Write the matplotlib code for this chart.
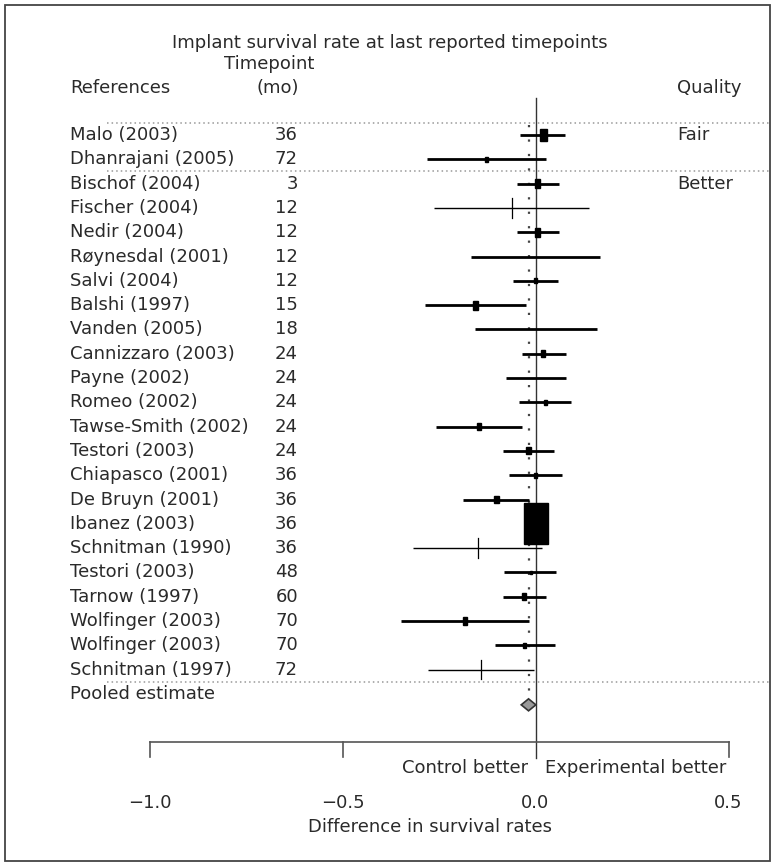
import matplotlib
matplotlib.use("Agg")
import matplotlib.pyplot as plt
from matplotlib.patches import Rectangle, Polygon

# study table
references = ["Malo (2003)", "Dhanrajani (2005)", "Bischof (2004)", "Fischer (2004)",
              "Nedir (2004)", "Røynesdal (2001)", "Salvi (2004)", "Balshi (1997)",
              "Vanden (2005)", "Cannizzaro (2003)", "Payne (2002)", "Romeo (2002)",
              "Tawse-Smith (2002)", "Testori (2003)", "Chiapasco (2001)", "De Bruyn (2001)",
              "Ibanez (2003)", "Schnitman (1990)", "Testori (2003)", "Tarnow (1997)",
              "Wolfinger (2003)", "Wolfinger (2003)", "Schnitman (1997)"]
timepoints = [36, 72, 3, 12, 12, 12, 12, 15, 18, 24, 24, 24, 24, 24, 36, 36, 36, 36, 48, 60, 70, 70, 72]
estimate = [0.020, -0.127, 0.006, -0.062, 0.006, 0.0, 0.0, -0.156, 0.0, 0.020, 0.0, 0.025,
            -0.146, -0.018, 0.0, -0.101, 0.0, -0.150, -0.012, -0.030, -0.183, -0.029, -0.142]
ci_low = [-0.040, -0.280, -0.048, -0.264, -0.048, -0.168, -0.057, -0.286, -0.158, -0.036, -0.077, -0.042,
          -0.258, -0.083, -0.068, -0.187, -0.020, -0.318, -0.081, -0.085, -0.349, -0.104, -0.279]
ci_high = [0.077, 0.026, 0.062, 0.139, 0.060, 0.167, 0.057, -0.025, 0.160, 0.079, 0.078, 0.093,
           -0.035, 0.048, 0.069, -0.016, 0.020, 0.018, 0.053, 0.026, -0.017, 0.050, -0.004]
weight = [8.5, 1.7, 4.7, 0, 4.7, 0, 1.7, 4.7, 0, 3.0, 0, 1.7,
          3.0, 3.0, 1.7, 3.0, 100, 0, 0.75, 3.0, 3.0, 1.7, 0]
marker = ["box", "box", "box", "tick", "box", "none", "box", "box", "none", "box", "none", "box",
          "box", "box", "box", "box", "box", "tick", "box", "box", "box", "box", "tick"]
quality = {0: "Fair", 2: "Better"}
group_breaks = [0, 2, 23]
pooled = -0.018
pooled_ci = (-0.037, 0.001)
ticks = [-1.0, -0.5, 0.0, 0.5]
tick_labels = ["\u22121.0", "\u22120.5", "0.0", "0.5"]

W, H = 773, 863
X0, SX = 535.5, 386.0      # pixel of 0.0 and pixels per unit
R0, DY = 135.0, 24.3       # pixel of first row and row pitch

plt.rcParams['font.family'] = ['DejaVu Sans']
fs = 13.0
tc = "#2a2a2a"

fig = plt.figure(figsize=(W / 100, H / 100), dpi=100)
ax = fig.add_axes([0, 0, 1, 1])
ax.set_xlim(-X0 / SX, (W - X0) / SX)
ax.set_ylim((H - R0) / DY, -R0 / DY)
ax.axis("off")


def ry(ypx):
    return (ypx - R0) / DY


def fx(xpx):
    return (xpx - X0) / SX


# frame
ax.add_patch(Rectangle((fx(5), ry(861)), fx(770) - fx(5), ry(5) - ry(861),
                       fill=False, ec="#444444", lw=1.3, zorder=0))

# header text
ax.text(fx(390), ry(43), "Implant survival rate at last reported timepoints", ha="center", va="center", fontsize=fs, color=tc)
ax.text(fx(269), ry(64), "Timepoint", ha="center", va="center", fontsize=fs, color=tc)
ax.text(fx(70), ry(88), "References", ha="left", va="center", fontsize=fs, color=tc)
ax.text(fx(299), ry(88), "(mo)", ha="right", va="center", fontsize=fs, color=tc)
ax.text(fx(677), ry(88), "Quality", ha="left", va="center", fontsize=fs, color=tc)

# group separators
for b in group_breaks:
    ax.plot([fx(107), fx(770)], [b - 0.5, b - 0.5], color="#999999", lw=1.1, ls=(0, (1, 2)), zorder=1)

# zero line and pooled line
ax.plot([0, 0], [ry(98), ry(758)], color="#333333", lw=1.0, zorder=2)
ax.plot([pooled, pooled], [ry(125), 23.2], color="#444444", lw=1.6, ls=(0, (1, 5.5)), zorder=2)

for i, ref in enumerate(references):
    ax.text(fx(70), i, ref, ha="left", va="center", fontsize=fs, color=tc, zorder=5)
    ax.text(fx(298), i, str(timepoints[i]), ha="right", va="center", fontsize=fs, color=tc, zorder=5)
    if i in quality:
        ax.text(fx(677), i, quality[i], ha="left", va="center", fontsize=fs, color=tc)
    lw = 1.0 if marker[i] == "tick" else 2.0
    ax.plot([ci_low[i], ci_high[i]], [i, i], color="black", lw=lw, zorder=3,
            solid_capstyle="butt")
    if marker[i] == "box" and weight[i] > 0:
        side = 2.4 * weight[i] ** 0.5
        w = side / SX
        h = 1.7 * side / DY
        ax.add_patch(Rectangle((estimate[i] - w / 2, i - h / 2), w, h, color="black", zorder=4))
    elif marker[i] == "tick":
        ax.plot([estimate[i], estimate[i]], [i - 0.4, i + 0.4], color="black", lw=0.9, zorder=4)

ax.text(fx(70), 23, "Pooled estimate", ha="left", va="center", fontsize=fs, color=tc)
dy = 23.45
dh = 6 / DY
ax.add_patch(Polygon([(pooled_ci[0], dy), (pooled, dy - dh), (pooled_ci[1], dy), (pooled, dy + dh)],
                     closed=True, fc="#999999", ec="#333333", lw=1.2, zorder=4))

# bottom scale bracket
yb = ry(742)
ax.plot([ticks[0], ticks[-1]], [yb, yb], color="#555555", lw=1.2, zorder=2)
for t, lab in zip(ticks, tick_labels):
    if t != 0:
        ax.plot([t, t], [yb, ry(757)], color="#555555", lw=1.2)
    ax.text(t, ry(803), lab, ha="center", va="center", fontsize=fs, color=tc)

ax.text(fx(528), ry(768), "Control better", ha="right", va="center", fontsize=fs, color=tc)
ax.text(fx(545), ry(768), "Experimental better", ha="left", va="center", fontsize=fs, color=tc)
ax.text(fx(430), ry(827), "Difference in survival rates", ha="center", va="center", fontsize=fs, color=tc)

fig.savefig("out.png", dpi=100)
